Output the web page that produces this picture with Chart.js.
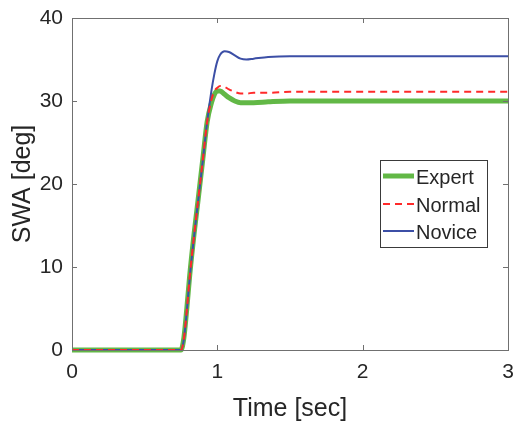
<!DOCTYPE html>
<html>
<head>
<meta charset="utf-8">
<script src="https://cdn.jsdelivr.net/npm/chart.js@4"></script>
<style>
  html, body { margin: 0; padding: 0; background: #fff; }
  #wrap { width: 514px; height: 424px; }
</style>
</head>
<body>
<div id="wrap"><canvas id="swaChart" width="514" height="424"></canvas></div>
<script>
// time samples (sec) shared by all three drivers
const times  = [0, 0.75, 0.77, 0.79, 0.81, 0.84, 0.867, 0.9, 0.93, 0.96, 0.98, 1.0, 1.02, 1.05, 1.08, 1.12, 1.16, 1.2, 1.25, 1.35, 1.5, 2, 3];
const expert = [0, 0, 1.5, 5, 9, 14, 18, 23, 27.5, 29.8, 30.8, 31.2, 31.2, 30.8, 30.4, 30.0, 29.8, 29.8, 29.8, 29.9, 30, 30, 30];
const normal = [0, 0, 1.4, 4.8, 8.8, 13.8, 17.9, 22.9, 27.5, 30.2, 31.2, 31.6, 31.8, 31.7, 31.4, 31.1, 30.9, 30.9, 31.0, 31.0, 31.1, 31.1, 31.1];
const novice = [0, 0, 1.3, 4.7, 8.7, 13.7, 17.8, 22.8, 27.5, 31.3, 33.3, 34.8, 35.6, 36.0, 35.9, 35.5, 35.1, 35.0, 35.1, 35.3, 35.4, 35.4, 35.4];
const xTicks = [0, 1, 2, 3];
const yTicks = [0, 10, 20, 30, 40];

const FONT = 'Liberation Sans, Arial, sans-serif';
const TEXT = '#262626';
const AXIS = '#707070';

function pts(vals) {
    return times.map((t, i) => ({ x: t, y: vals[i] }));
}

// matlab style box with inward ticks on all four sides, plus the legend
const boxPlugin = {
    id: 'box',
    afterDatasetsDraw(chart) {
        const { ctx, chartArea: a, scales } = chart;
        ctx.save();
        ctx.strokeStyle = AXIS;
        ctx.lineWidth = 1;
        ctx.strokeRect(a.left + 0.5, a.top + 0.5, a.right - a.left, a.bottom - a.top);
        ctx.beginPath();
        xTicks.forEach(v => {
            const px = Math.round(scales.x.getPixelForValue(v)) + 0.5;
            ctx.moveTo(px, a.bottom); ctx.lineTo(px, a.bottom - 5);
            ctx.moveTo(px, a.top); ctx.lineTo(px, a.top + 5);
        });
        yTicks.forEach(v => {
            const py = Math.round(scales.y.getPixelForValue(v)) + 0.5;
            ctx.moveTo(a.left, py); ctx.lineTo(a.left + 5, py);
            ctx.moveTo(a.right, py); ctx.lineTo(a.right - 5, py);
        });
        ctx.stroke();
        ctx.restore();
    },
    afterDraw(chart) {
        const { ctx } = chart;
        const bx = 380, by = 160, bw = 107, bh = 87;
        ctx.save();
        ctx.fillStyle = '#fff';
        ctx.fillRect(bx, by, bw, bh);
        ctx.strokeStyle = '#3a3a3a';
        ctx.lineWidth = 1;
        ctx.strokeRect(bx + 0.5, by + 0.5, bw, bh);
        const rows = [176, 204, 231];
        ['Expert', 'Normal', 'Novice'].forEach((name, i) => {
            const ds = chart.data.datasets.find(d => d.label === name);
            ctx.beginPath();
            ctx.strokeStyle = ds.borderColor;
            ctx.lineWidth = ds.borderWidth;
            ctx.setLineDash(ds.borderDash || []);
            ctx.moveTo(bx + 3, rows[i]);
            ctx.lineTo(bx + 34, rows[i]);
            ctx.stroke();
            ctx.setLineDash([]);
            ctx.fillStyle = TEXT;
            ctx.font = '20px ' + FONT;
            ctx.textBaseline = 'middle';
            ctx.fillText(name, bx + 36, rows[i] + 2);
        });
        ctx.restore();
    }
};

new Chart(document.getElementById('swaChart').getContext('2d'), {
    type: 'line',
    data: {
        datasets: [
            { label: 'Expert', data: pts(expert), borderColor: '#62b846', borderWidth: 5, order: 2 },
            { label: 'Normal', data: pts(normal), borderColor: '#ff2a2a', borderWidth: 2, borderDash: [7, 5], order: 0 },
            { label: 'Novice', data: pts(novice), borderColor: '#3c4fa6', borderWidth: 2, order: 1 }
        ].map(d => Object.assign(d, { pointRadius: 0, cubicInterpolationMode: 'monotone', fill: false, clip: 8 }))
    },
    options: {
        responsive: false,
        animation: false,
        devicePixelRatio: 1,
        layout: { padding: { top: 18, right: 6, left: 0, bottom: 0 } },
        plugins: { legend: { display: false }, tooltip: { enabled: false } },
        scales: {
            x: {
                type: 'linear', min: 0, max: 3,
                afterBuildTicks: s => { s.ticks = xTicks.map(v => ({ value: v })); },
                afterFit: s => { s.height = 74; s.paddingLeft = 0; s.paddingRight = 0; },
                grid: { display: false, drawTicks: false },
                border: { display: false },
                ticks: { color: TEXT, font: { size: 21, family: FONT }, padding: 10, maxRotation: 0 },
                title: { display: true, text: 'Time [sec]', color: TEXT, font: { size: 25, family: FONT }, padding: { top: 2, bottom: 0 } }
            },
            y: {
                type: 'linear', min: 0, max: 40,
                afterBuildTicks: s => { s.ticks = yTicks.map(v => ({ value: v })); },
                afterFit: s => { s.width = 72; s.paddingTop = 0; s.paddingBottom = 0; },
                grid: { display: false, drawTicks: false },
                border: { display: false },
                ticks: { color: TEXT, font: { size: 21, family: FONT }, padding: 9 },
                title: { display: true, text: 'SWA [deg]', color: TEXT, font: { size: 25, family: FONT }, padding: { top: 8, bottom: 0 } }
            }
        }
    },
    plugins: [boxPlugin]
});
</script>
</body>
</html>
